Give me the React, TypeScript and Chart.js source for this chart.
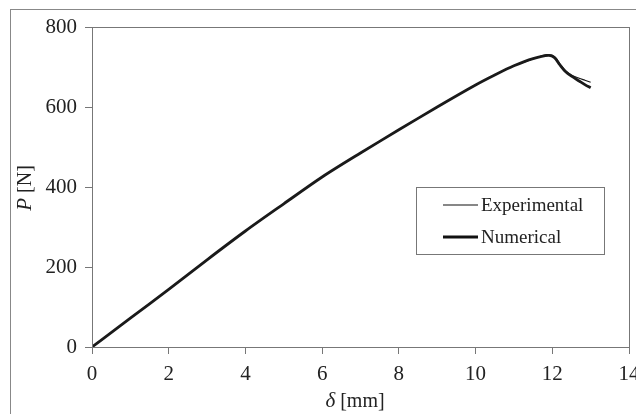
import React, { useEffect, useRef } from "react";
import { Chart, registerables } from "chart.js";

Chart.register(...registerables);

// Displacement δ [mm] and load P [N]
const expDelta = [0, 0.5, 1, 1.8, 2, 3, 4, 5, 6, 7, 7.5, 8, 9, 10, 10.5, 11, 11.5, 11.85, 12.0, 12.1, 12.2, 12.35, 12.5, 12.7, 12.85, 13.0];
const expLoad = [0, 36, 72, 130, 144, 218, 290, 358, 425, 485, 514, 543, 600, 655, 680, 703, 720, 731, 729, 722, 708, 690, 680, 672, 667, 662];
const numDelta = [0, 0.5, 1, 2, 3, 4, 5, 6, 7, 8, 9, 10, 10.5, 11, 11.5, 11.9, 12.05, 12.2, 12.35, 12.5, 12.7, 12.85, 13.0];
const numLoad = [0, 36, 72, 144, 218, 290, 358, 425, 485, 543, 600, 655, 680, 703, 721, 729, 724, 705, 688, 677, 665, 656, 648];

const xTicks = [0, 2, 4, 6, 8, 10, 12, 14];
const yTicks = [0, 200, 400, 600, 800];
const legendLabels = ["Experimental", "Numerical"];
const xTitle = ["δ", " [mm]"];
const yTitle = ["P", " [N]"];

const FONT = "'Liberation Serif', 'Times New Roman', serif";

const decorPlugin = {
  id: "decor",
  beforeDraw(chart: any) {
    const ctx = chart.ctx;
    ctx.save();
    ctx.fillStyle = "#fff";
    ctx.fillRect(0, 0, chart.width, chart.height);
    ctx.strokeStyle = "#888";
    ctx.lineWidth = 1;
    ctx.strokeRect(10.5, 9.5, chart.width + 20, chart.height + 20);
    ctx.restore();
  },
  afterDraw(chart: any) {
    const ctx = chart.ctx;
    const a = chart.chartArea;
    ctx.save();
    // plot frame
    ctx.strokeStyle = "#777";
    ctx.lineWidth = 1;
    ctx.strokeRect(Math.round(a.left) + 0.5, Math.round(a.top) + 0.5, Math.round(a.right - a.left), Math.round(a.bottom - a.top));

    // axis titles
    ctx.fillStyle = "#222";
    ctx.textBaseline = "alphabetic";
    const drawMixed = (parts: string[], cx: number, cy: number) => {
      const it = `italic 21px ${FONT}`;
      const nm = `20px ${FONT}`;
      ctx.font = it;
      const w1 = ctx.measureText(parts[0]).width;
      ctx.font = nm;
      const w2 = ctx.measureText(parts[1]).width;
      const x0 = cx - (w1 + w2) / 2;
      ctx.font = it;
      ctx.textAlign = "left";
      ctx.fillText(parts[0], x0, cy);
      ctx.font = nm;
      ctx.fillText(parts[1], x0 + w1, cy);
    };
    drawMixed(xTitle, 355, 407);
    ctx.save();
    ctx.translate(31, 188);
    ctx.rotate(-Math.PI / 2);
    drawMixed(yTitle, 0, 0);
    ctx.restore();

    // legend
    const lx = 416.5, ly = 187.5, lw = 188, lh = 67;
    ctx.fillStyle = "#fff";
    ctx.fillRect(lx, ly, lw, lh);
    ctx.strokeStyle = "#777";
    ctx.lineWidth = 1;
    ctx.strokeRect(lx, ly, lw, lh);
    const widths = [1.2, 2.8];
    const ys = [205, 237];
    ctx.font = `19px ${FONT}`;
    ctx.textAlign = "left";
    for (let i = 0; i < 2; i++) {
      ctx.strokeStyle = "#111";
      ctx.lineWidth = widths[i];
      ctx.beginPath();
      ctx.moveTo(443, ys[i]);
      ctx.lineTo(478, ys[i]);
      ctx.stroke();
      ctx.fillStyle = "#222";
      ctx.fillText(legendLabels[i], 481, ys[i] + 6);
    }
    ctx.restore();
  },
};

export default function App() {
  const ref = useRef<HTMLCanvasElement | null>(null);
  useEffect(() => {
    if (!ref.current) return;
    const chart = new Chart(ref.current, {
      type: "scatter",
      data: {
        datasets: [
          {
            label: legendLabels[1],
            data: numDelta.map((x, i) => ({ x, y: numLoad[i] })),
            showLine: true,
            borderColor: "#1a1a1a",
            borderWidth: 2.8,
            pointRadius: 0,
            tension: 0.3,
          },
          {
            label: legendLabels[0],
            data: expDelta.map((x, i) => ({ x, y: expLoad[i] })),
            showLine: true,
            borderColor: "#1a1a1a",
            borderWidth: 1.2,
            pointRadius: 0,
            tension: 0.3,
          },
        ],
      },
      options: {
        responsive: false,
        animation: false,
        devicePixelRatio: 1,
        layout: { padding: { left: 0, top: 27, right: 7, bottom: 0 } },
        plugins: { legend: { display: false }, tooltip: { enabled: false } },
        scales: {
          x: {
            type: "linear",
            min: 0,
            max: 14,
            afterBuildTicks: (s: any) => { s.ticks = xTicks.map((v) => ({ value: v })); },
            afterFit: (s: any) => { s.height = 67; s.paddingRight = 0; s.paddingLeft = 0; },
            grid: { drawOnChartArea: false, drawTicks: true, tickLength: 7, color: "#777" },
            border: { display: true, color: "#777" },
            ticks: { color: "#222", font: { family: FONT, size: 21 }, padding: 8, maxRotation: 0 },
          },
          y: {
            type: "linear",
            min: 0,
            max: 800,
            afterBuildTicks: (s: any) => { s.ticks = yTicks.map((v) => ({ value: v })); },
            afterFit: (s: any) => { s.width = 92; s.paddingTop = 0; s.paddingBottom = 0; },
            grid: { drawOnChartArea: false, drawTicks: true, tickLength: 7, color: "#777" },
            border: { display: true, color: "#777" },
            ticks: { color: "#222", font: { family: FONT, size: 21 }, padding: 8 },
          },
        },
      },
      plugins: [decorPlugin],
    });
    return () => chart.destroy();
  }, []);
  return (
    <div style={{ width: 636, height: 414 }}>
      <style>{"body{margin:0;overflow:hidden}"}</style>
      <canvas ref={ref} width={636} height={414} style={{ display: "block" }} />
    </div>
  );
}
